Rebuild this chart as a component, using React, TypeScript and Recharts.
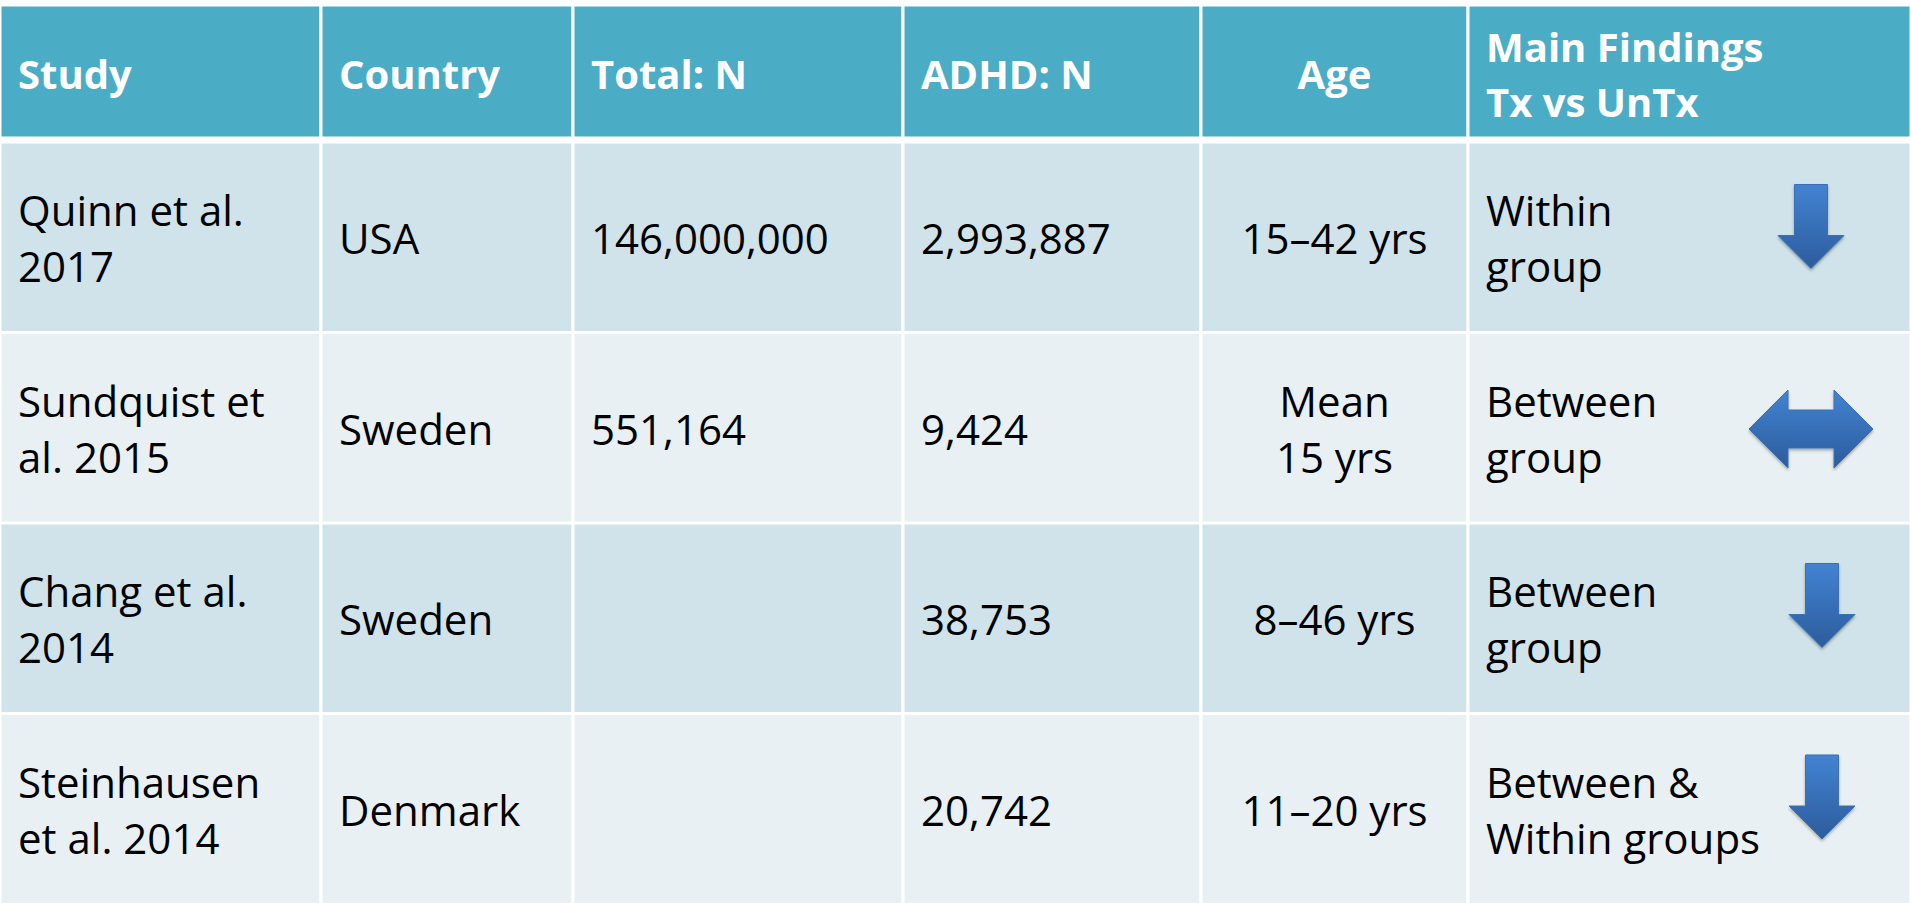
import { Bar, BarChart, Cell, LabelList, XAxis, YAxis } from "recharts";

// table content
const headers = ["Study", "Country", "Total: N", "ADHD: N", "Age", "Main Findings\nTx vs UnTx"];
const studies = ["Quinn et al.\n2017", "Sundquist et\nal. 2015", "Chang et al.\n2014", "Steinhausen\net al. 2014"];
const countries = ["USA", "Sweden", "Sweden", "Denmark"];
const totalN = ["146,000,000", "551,164", "", ""];
const adhdN = ["2,993,887", "9,424", "38,753", "20,742"];
const ages = ["15–42 yrs", "Mean\n15 yrs", "8–46 yrs", "11–20 yrs"];
const findings = ["Within\ngroup", "Between\ngroup", "Between\ngroup", "Between &\nWithin groups"];
const directions = ["down", "both", "down", "down"];

// layout
const colWidths = [321, 252, 330, 298, 267, 443];
const colAlign = ["start", "start", "start", "start", "middle", "start"];
const arrowDx = [343, 343, 354, 354];
const arrowDy = [-11, 1, -13, -12];
const bandFills = ["#D0E3EA", "#E9F0F3"];
const TOTAL = colWidths.reduce((a, b) => a + b, 0);
const FONT = "'Open Sans', sans-serif";

const bodyCols = [studies, countries, totalN, adhdN, ages, findings];

const widthFields = Object.fromEntries(colWidths.map((w, i) => [`c${i}`, w]));
const headerRows = [{ rid: "h", ...widthFields }];
const bodyRows = studies.map((_, r) => ({ rid: String(r), ...widthFields }));

const box = (p: any) => {
  const vb = p.viewBox || {};
  return {
    x: Number(p.x ?? vb.x),
    y: Number(p.y ?? vb.y),
    w: Number(p.width ?? vb.width),
    h: Number(p.height ?? vb.height),
  };
};

const lines = (
  text: string,
  x: number,
  cy: number,
  anchor: string,
  size: number,
  lineH: number,
  color: string,
  bold: boolean,
) => {
  const parts = text ? text.split("\n") : [];
  return parts.map((t, k) => (
    <text
      key={k}
      x={x}
      y={cy + (k - (parts.length - 1) / 2) * lineH}
      textAnchor={anchor as any}
      dominantBaseline="central"
      fontFamily={FONT}
      fontSize={size}
      fontWeight={bold ? 700 : 400}
      fill={color}
    >
      {t}
    </text>
  ));
};

const downArrow = (cx: number, cy: number) => {
  const top = cy - 42;
  return `M${cx - 16.5},${top} L${cx + 16.5},${top} L${cx + 16.5},${top + 51} L${cx + 33},${top + 51} L${cx},${top + 84} L${cx - 33},${top + 51} L${cx - 16.5},${top + 51} Z`;
};

const bothArrow = (cx: number, cy: number) => {
  const l = cx - 62;
  const r = cx + 62;
  return `M${l},${cy} L${l + 39},${cy - 39} L${l + 39},${cy - 19} L${r - 39},${cy - 19} L${r - 39},${cy - 39} L${r},${cy} L${r - 39},${cy + 39} L${r - 39},${cy + 19} L${l + 39},${cy + 19} L${l + 39},${cy + 39} Z`;
};

const headerLabel = (col: number) => (p: any) => {
  const { x, y, w, h } = box(p);
  const tx = colAlign[col] === "middle" ? x + w / 2 : x + 18;
  return <g>{lines(headers[col], tx, y + h / 2 + 2, colAlign[col], 40, 55, "#ffffff", true)}</g>;
};

const bodyLabel = (col: number) => (p: any) => {
  const { x, y, w, h } = box(p);
  const r = Number(p.value);
  const tx = colAlign[col] === "middle" ? x + w / 2 : x + 18;
  const cy = y + h / 2;
  const text = lines(bodyCols[col][r], tx, cy, colAlign[col], 42, 56, "#000000", false);
  if (col !== bodyCols.length - 1) return <g>{text}</g>;
  const ax = x + arrowDx[r];
  const ay = cy + arrowDy[r];
  const d = directions[r] === "both" ? bothArrow(ax, ay) : downArrow(ax, ay);
  return (
    <g>
      {text}
      <path d={d} fill="url(#arrowFill)" stroke="#3A70B5" strokeWidth={1} filter="url(#arrowShadow)" />
    </g>
  );
};

export default function App() {
  return (
    <div style={{ position: "absolute", left: 0, top: 0, width: 1911, height: 904, background: "#ffffff" }}>
      <div style={{ position: "absolute", left: 0, top: 5 }}>
        <BarChart
          layout="vertical"
          width={TOTAL}
          height={133}
          data={headerRows}
          margin={{ top: 0, right: 0, bottom: 0, left: 0 }}
          barCategoryGap={0}
        >
          <XAxis type="number" domain={[0, TOTAL]} hide />
          <YAxis type="category" dataKey="rid" hide width={0} />
          {colWidths.map((_, i) => (
            <Bar
              key={i}
              dataKey={`c${i}`}
              stackId="row"
              fill="#4BACC6"
              stroke="#ffffff"
              strokeWidth={3}
              isAnimationActive={false}
            >
              <LabelList dataKey="rid" content={headerLabel(i)} />
            </Bar>
          ))}
        </BarChart>
      </div>
      <div style={{ position: "absolute", left: 0, top: 142 }}>
        <BarChart
          layout="vertical"
          width={TOTAL}
          height={762}
          data={bodyRows}
          margin={{ top: 0, right: 0, bottom: 0, left: 0 }}
          barCategoryGap={0}
        >
          <defs>
            <linearGradient id="arrowFill" x1="0" y1="0" x2="0" y2="1">
              <stop offset="0%" stopColor="#4283D2" />
              <stop offset="100%" stopColor="#2C5C9C" />
            </linearGradient>
            <filter id="arrowShadow" x="-20%" y="-20%" width="140%" height="150%">
              <feDropShadow dx="0" dy="2" stdDeviation="1.5" floodColor="#000000" floodOpacity="0.3" />
            </filter>
          </defs>
          <XAxis type="number" domain={[0, TOTAL]} hide />
          <YAxis type="category" dataKey="rid" hide width={0} />
          {colWidths.map((_, i) => (
            <Bar
              key={i}
              dataKey={`c${i}`}
              stackId="row"
              stroke="#ffffff"
              strokeWidth={3}
              isAnimationActive={false}
            >
              {bodyRows.map((_, r) => (
                <Cell key={r} fill={bandFills[r % 2]} />
              ))}
              <LabelList dataKey="rid" content={bodyLabel(i)} />
            </Bar>
          ))}
        </BarChart>
      </div>
    </div>
  );
}
